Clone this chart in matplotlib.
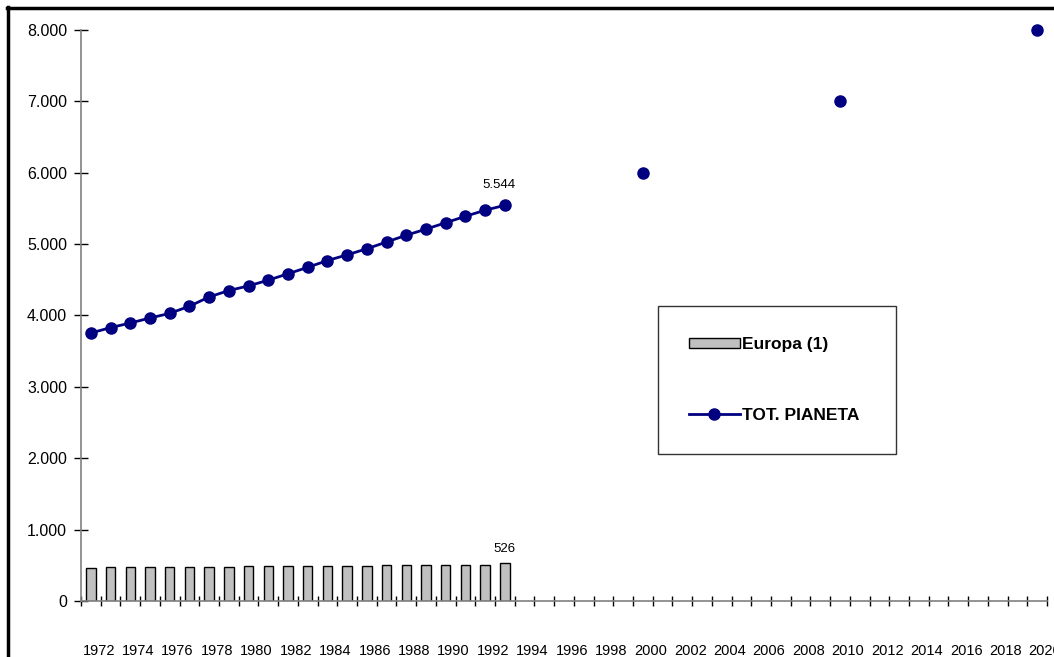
import numpy as np
import matplotlib.pyplot as plt
from matplotlib.lines import Line2D
from matplotlib.ticker import FuncFormatter

plt.rcParams["font.family"] = ["Liberation Sans", "DejaVu Sans"]

# categories: one per year 1972..2020
years = list(range(1972, 2021))

# Europa (1), millions, 1972..1993
europa_years = list(range(1972, 1994))
europa = [466, 472, 474, 474, 475, 480, 482, 483, 484, 485, 486,
          492, 494, 496, 497, 499, 500, 501, 503, 505, 510, 526]

# TOT. PIANETA, millions, 1972..1993
pianeta_years = list(range(1972, 1994))
pianeta = [3755, 3830, 3895, 3965, 4030, 4130, 4260, 4350, 4415, 4495, 4585,
           4675, 4770, 4850, 4935, 5030, 5125, 5210, 5300, 5390, 5475, 5544]

# projections
proj_years = [2000, 2010, 2020]
proj_values = [6000, 7000, 8000]

W, H = 1054, 657
fig = plt.figure(figsize=(W / 100, H / 100), dpi=100)
ax = fig.add_axes([81 / W, (H - 601) / H, (1047 - 81) / W, (601 - 30) / H])

idx = {y: i for i, y in enumerate(years)}
xe = [idx[y] for y in europa_years]
xp = [idx[y] for y in pianeta_years]
xj = [idx[y] for y in proj_years]

navy = "#000080"
bars = ax.bar(xe, europa, width=0.48, color="#C0C0C0", edgecolor="black",
              linewidth=1, label="Europa (1)", zorder=2)
line, = ax.plot(xp, pianeta, color=navy, linewidth=2, marker="o", markersize=8,
                label="TOT. PIANETA", zorder=3)
ax.plot(xj, proj_values, linestyle="none", marker="o", markersize=8,
        color=navy, clip_on=False, zorder=3)

ax.annotate(f"{pianeta[-1]:,}".replace(",", "."), (xp[-1], pianeta[-1]),
            xytext=(-4, 10), textcoords="offset points", ha="center",
            va="bottom", fontsize=9.5)
ax.annotate(f"{europa[-1]}", (xe[-1], europa[-1]),
            xytext=(0, 6), textcoords="offset points", ha="center",
            va="bottom", fontsize=9.5)

ax.set_xlim(-0.5, len(years) - 0.5)
ax.set_ylim(0, 8000)

ax.set_yticks(np.arange(0, 8001, 1000))
ax.yaxis.set_major_formatter(FuncFormatter(lambda v, p: f"{int(v):,}".replace(",", ".")))
ax.tick_params(axis="y", direction="inout", length=10, width=1, pad=5,
               labelsize=11.5, color="black")

ax.set_xticks(np.arange(-0.5, len(years), 1.0))
ax.set_xticklabels([])
lab_years = years[::2]
ax.set_xticks([idx[y] + 0.4 for y in lab_years], [str(y) for y in lab_years], minor=True)
ax.tick_params(axis="x", which="major", direction="inout", length=7, width=1,
               color="black")
ax.tick_params(axis="x", which="minor", length=0, pad=31, labelsize=10.5)

for s in ["top", "right"]:
    ax.spines[s].set_visible(False)
for s in ["left", "bottom"]:
    ax.spines[s].set_color("#808080")
    ax.spines[s].set_linewidth(1.2)

leg = ax.legend([bars, line], ["Europa (1)", "TOT. PIANETA"], loc="upper left",
                bbox_to_anchor=(658 / W, 1 - 306 / H - 0.01, (896 - 658) / W, 0.01),
                bbox_transform=fig.transFigure, mode="expand", borderaxespad=0,
                prop={"weight": "bold", "size": 12.5}, frameon=True,
                fancybox=False, edgecolor="black", borderpad=1.8,
                labelspacing=3.2, handlelength=2.9, handletextpad=0.15,
                handleheight=0.55)
leg.get_frame().set_linewidth(1)

# outer chart border (left and top edges visible)
fig.add_artist(Line2D([7.5 / W, 7.5 / W], [0, 1 - 6.5 / H], color="black",
                      linewidth=2.5, transform=fig.transFigure))
fig.add_artist(Line2D([6.5 / W, 1], [1 - 7.5 / H, 1 - 7.5 / H], color="black",
                      linewidth=2.5, transform=fig.transFigure))

fig.savefig("out.png", dpi=100)
